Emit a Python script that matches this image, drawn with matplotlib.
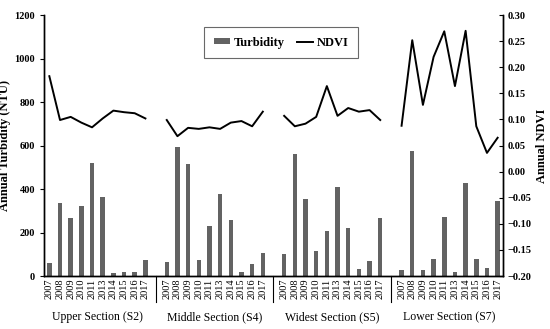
import matplotlib.pyplot as plt
import matplotlib.transforms as mtransforms
import numpy as np

plt.rcParams['font.family'] = ['Liberation Serif', 'DejaVu Serif']

years = ['2007', '2008', '2009', '2010', '2011', '2013', '2014', '2015', '2016', '2017']
sections = ['Upper Section (S2)', 'Middle Section (S4)', 'Widest Section (S5)', 'Lower Section (S7)']

turb_upper = [60, 335, 265, 322, 520, 362, 15, 20, 20, 75]
turb_middle = [66, 595, 515, 74, 228, 376, 258, 20, 56, 104]
turb_widest = [101, 560, 353, 117, 207, 410, 219, 32, 71, 267]
turb_lower = [28, 575, 30, 77, 271, 20, 426, 77, 35, 345]

ndvi_upper = [0.183, 0.099, 0.105, 0.094, 0.085, 0.102, 0.117, 0.114, 0.112, 0.102]
ndvi_middle = [0.099, 0.068, 0.084, 0.082, 0.085, 0.082, 0.094, 0.097, 0.087, 0.115]
ndvi_widest = [0.107, 0.087, 0.092, 0.105, 0.164, 0.107, 0.122, 0.115, 0.118, 0.099]
ndvi_lower = [0.088, 0.252, 0.128, 0.220, 0.269, 0.164, 0.270, 0.087, 0.036, 0.065]

turb = [turb_upper, turb_middle, turb_widest, turb_lower]
ndvi = [ndvi_upper, ndvi_middle, ndvi_widest, ndvi_lower]


def main():
    fig = plt.figure(figsize=(5.5, 3.29), dpi=100)
    ax = fig.add_axes([0.08, 0.161, 0.8345, 0.793])
    ax2 = ax.twinx()
    blend = mtransforms.blended_transform_factory(ax.transData, ax.transAxes)

    n = len(years)
    tick_pos = []
    tick_lab = []
    for g in range(len(sections)):
        x = np.arange(n) + g * (n + 1)
        ax.bar(x, turb[g], width=0.42, color='#636363', label='Turbidity' if g == 0 else None)
        ax2.plot(x, ndvi[g], color='black', lw=1.4, label='NDVI' if g == 0 else None)
        tick_pos.extend(x)
        tick_lab.extend(years)
        ax.text(x.mean(), -0.157, sections[g], transform=blend,
                ha='center', va='center', fontsize=8.5)
        if g > 0:
            sep = g * (n + 1) - 1
            ax.plot([sep, sep], [0, -0.1], color='black', lw=0.8, clip_on=False, transform=blend)

    total = len(sections) * (n + 1) - 1
    ax.set_xlim(-0.5, total - 0.5)
    ax.set_ylim(0, 1200)
    ax.set_yticks(range(0, 1201, 200))
    ndvi_ticks = np.round(np.arange(-0.20, 0.301, 0.05), 2)
    ax2.set_ylim(-0.20, 0.30)
    ax2.set_yticks(ndvi_ticks)
    ax2.set_yticklabels([('%.2f' % abs(v)) if v >= 0 else '\u2212%.2f' % abs(v) for v in ndvi_ticks])

    ax.set_xticks(tick_pos)
    ax.set_xticklabels(tick_lab, rotation=90, fontsize=7.5)
    ax.tick_params(axis='x', length=0, pad=2)
    ax.tick_params(axis='y', direction='out', length=3, width=0.8, labelsize=7.5)
    ax2.tick_params(axis='y', direction='in', length=3, width=0.8, labelsize=7.5)
    for lab in ax.get_yticklabels() + ax2.get_yticklabels():
        lab.set_fontweight('bold')

    for a in (ax, ax2):
        a.spines['top'].set_visible(False)
        for s in ('left', 'right', 'bottom'):
            a.spines[s].set_linewidth(1.0)

    ax.set_ylabel('Annual Turbidity (NTU)', fontsize=9, fontweight='bold')
    ax.yaxis.set_label_coords(-0.072, 0.5)
    ax2.set_ylabel('Annual NDVI', fontsize=9, fontweight='bold', labelpad=3)

    h1, l1 = ax.get_legend_handles_labels()
    h2, l2 = ax2.get_legend_handles_labels()
    leg = ax.legend(h1 + h2, l1 + l2, loc='upper left', bbox_to_anchor=(0.349, 0.954), ncol=2,
                    frameon=True, fancybox=False, edgecolor='#444444',
                    prop={'weight': 'bold', 'size': 9}, handlelength=1.3, columnspacing=1.0,
                    handletextpad=0.3, borderpad=0.75, borderaxespad=0, handleheight=0.4)
    leg.get_frame().set_linewidth(0.8)

    fig.savefig('out.png', dpi=100)


if __name__ == '__main__':
    main()
